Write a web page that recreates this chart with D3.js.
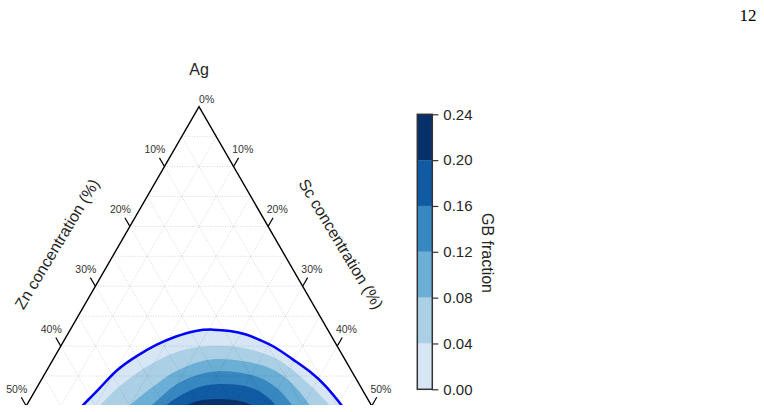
<!DOCTYPE html>
<meta charset="utf-8">
<script src="https://d3js.org/d3.v7.min.js"></script>
<style>
  body { margin: 0; background: #fff; }
  text { font-family: "Liberation Sans", Arial, sans-serif; fill: #262626; }
</style>
<div id="chart"></div>
<script>

// GB fraction levels (colorbar ticks) and the Blues bands between them
var levels = [0, 0.04, 0.08, 0.12, 0.16, 0.20, 0.24];
var bandColors = ["#d6e6f4", "#abd0e6", "#6baed6", "#3787c0", "#105ba4", "#08306b"];

// contour boundaries, as [Zn %, Sc %]
var gb000 = [[45.5,7.2],[41.8,8.1],[37.8,9.2],[33.9,10.0],[29.8,11.8],[26.0,13.7],[22.7,15.7],
             [19.0,18.3],[16.6,20.6],[14.2,23.2],[12.1,25.9],[10.7,28.3],[9.2,30.7],[7.5,34.8],
             [6.0,38.2],[4.9,41.8],[4.3,45.6],[3.7,49.5]];
var gb004 = [[43.0,9.8],[39.3,10.6],[35.4,11.6],[31.2,13.2],[27.4,15.1],[24.5,16.6],[19.8,20.1],
             [15.0,24.9],[11.4,29.6],[9.4,32.8],[7.9,37.1],[6.7,40.8],[6.0,43.9],[5.3,47.5]];
var gb008 = [[38.5,13.8],[34.9,14.9],[31.3,16.2],[27.9,17.6],[26.1,18.3],[20.4,21.7],[16.6,25.5],
             [12.4,30.6],[10.5,33.9],[9.3,37.6],[8.9,41.0],[8.4,44.5]];
var gb012 = [[35.0,17.0],[31.8,18.1],[29.3,18.9],[26.6,19.7],[21.5,22.7],[17.1,27.0],[13.7,31.3],
             [11.9,35.3],[11.5,38.3],[11.0,42.0]];
var gb016 = [[32.5,19.5],[29.6,20.2],[27.8,20.9],[22.5,23.7],[17.7,28.6],[14.8,32.4],[13.7,36.2],
             [13.2,39.5]];
var gb020 = [[30.0,22.0],[27.2,22.7],[23.8,25.0],[19.4,29.4],[16.6,33.3],[16.0,37.0]];
var contours = [gb000, gb004, gb008, gb012, gb016, gb020];

// axis ticks (%) shown on the page, and grid spacing (%)
var axisTicks = [10, 20, 30, 40, 50];
var gridValues = [5, 10, 15, 20, 25, 30, 35, 40, 45, 50, 55, 60, 65, 70, 75, 80, 85, 90, 95];

var width = 764, height = 412;

var svg = d3.select("#chart")
  .append("svg")
    .attr("width", width)
    .attr("height", height);

// ternary projection: horizontal from Sc - Zn, vertical from Zn + Sc
var px = d3.scaleLinear().domain([-100, 100]).range([199 - 345.5, 199 + 345.5]);
var py = d3.scaleLinear().domain([0, 100]).range([106.7, 106.7 + 598.5]);
function proj(zn, sc) { return [px(sc - zn), py(zn + sc)]; }

// the page is cut at the bottom
svg.append("clipPath").attr("id", "page")
  .append("rect").attr("x", 0).attr("y", 0).attr("width", width).attr("height", 405);

var plot = svg.append("g").attr("clip-path", "url(#page)");

var line = d3.line()
  .x(function(d) { return proj(d[0], d[1])[0]; })
  .y(function(d) { return proj(d[0], d[1])[1]; })
  .curve(d3.curveBasis);

// filled bands
plot.append("g")
  .selectAll("path")
  .data(contours)
  .enter()
  .append("path")
    .attr("d", function(d) { return line(d) + "Z"; })
    .attr("fill", function(d, i) { return bandColors[i]; });

// dotted grid
var gridSegs = [];
gridValues.forEach(function(c) {
  gridSegs.push([[c, 0], [c, 100 - c]]);
  gridSegs.push([[0, c], [100 - c, c]]);
  gridSegs.push([[c, 0], [0, c]]);
});
plot.append("g")
  .selectAll("line")
  .data(gridSegs)
  .enter()
  .append("line")
    .attr("x1", function(d) { return proj(d[0][0], d[0][1])[0]; })
    .attr("y1", function(d) { return proj(d[0][0], d[0][1])[1]; })
    .attr("x2", function(d) { return proj(d[1][0], d[1][1])[0]; })
    .attr("y2", function(d) { return proj(d[1][0], d[1][1])[1]; })
    .attr("stroke", "#000")
    .attr("stroke-opacity", 0.22)
    .attr("stroke-width", 0.7)
    .attr("stroke-dasharray", "1,1.5");

// outer contour line
plot.append("path")
  .attr("d", line(gb000))
  .attr("fill", "none")
  .attr("stroke", "#0000ff")
  .attr("stroke-width", 2.5);

// triangle edges
plot.append("path")
  .attr("d", "M" + proj(100, 0) + "L" + proj(0, 0) + "L" + proj(0, 100))
  .attr("fill", "none")
  .attr("stroke", "#000")
  .attr("stroke-width", 1.4);

// ticks and labels on the Zn (left) and Sc (right) sides
var tl = 10, ux = 0.5, uy = 0.866;
var tg = plot.append("g");
axisTicks.forEach(function(t) {
  var L = proj(t, 0), R = proj(0, t);
  tg.append("line")
    .attr("x1", L[0]).attr("y1", L[1])
    .attr("x2", L[0] - tl * ux).attr("y2", L[1] - tl * uy)
    .attr("stroke", "#000").attr("stroke-width", 1.2);
  tg.append("line")
    .attr("x1", R[0]).attr("y1", R[1])
    .attr("x2", R[0] + tl * ux).attr("y2", R[1] - tl * uy)
    .attr("stroke", "#000").attr("stroke-width", 1.2);
  tg.append("text")
    .attr("x", L[0] - 9.5).attr("y", L[1] - 17.3)
    .attr("text-anchor", "middle").attr("dominant-baseline", "central")
    .style("font-size", "10.5px").style("fill", "#333")
    .text(t + "%");
  tg.append("text")
    .attr("x", R[0] + 9.2).attr("y", R[1] - 17.3)
    .attr("text-anchor", "middle").attr("dominant-baseline", "central")
    .style("font-size", "10.5px").style("fill", "#333")
    .text(t + "%");
});
var apex = proj(0, 0);
tg.append("text")
  .attr("x", apex[0] + 7.7).attr("y", apex[1] - 7.7)
  .attr("text-anchor", "middle").attr("dominant-baseline", "central")
  .style("font-size", "10.5px").style("fill", "#333")
  .text("0%");

// corner and side labels
svg.append("text")
  .attr("x", apex[0]).attr("y", 69)
  .attr("text-anchor", "middle").attr("dominant-baseline", "central")
  .style("font-size", "16px")
  .text("Ag");
svg.append("text")
  .attr("transform", "translate(57,244) rotate(-59)")
  .attr("text-anchor", "middle").attr("dominant-baseline", "central")
  .style("font-size", "16px")
  .text("Zn concentration (%)");
svg.append("text")
  .attr("transform", "translate(341,244) rotate(59)")
  .attr("text-anchor", "middle").attr("dominant-baseline", "central")
  .style("font-size", "16px")
  .text("Sc concentration (%)");

// colorbar
var cbX = 417.3, cbW = 15;
var cy = d3.scaleLinear().domain([0, 0.24]).range([389.3, 114.3]);
var cb = svg.append("g");
cb.selectAll("rect")
  .data(d3.pairs(levels))
  .enter()
  .append("rect")
    .attr("x", cbX)
    .attr("y", function(d) { return cy(d[1]); })
    .attr("width", cbW)
    .attr("height", function(d) { return cy(d[0]) - cy(d[1]); })
    .attr("fill", function(d, i) { return bandColors[i]; });
cb.append("rect")
  .attr("x", cbX).attr("y", cy(0.24))
  .attr("width", cbW).attr("height", cy(0) - cy(0.24))
  .attr("fill", "none").attr("stroke", "#333").attr("stroke-width", 1.5);
var cax = cb.append("g")
  .attr("transform", "translate(" + (cbX + cbW) + ",0)")
  .call(d3.axisRight(cy).tickValues(levels).tickFormat(d3.format(".2f")).tickSize(6).tickPadding(5));
cax.select(".domain").remove();
cax.selectAll("line").attr("stroke", "#333").attr("stroke-width", 1.2);
cax.selectAll("text")
  .style("font-size", "15px")
  .style("font-family", "'Liberation Sans', Arial, sans-serif")
  .attr("fill", "#262626");

svg.append("text")
  .attr("transform", "translate(487,253) rotate(90)")
  .attr("text-anchor", "middle").attr("dominant-baseline", "central")
  .style("font-size", "16px")
  .text("GB fraction");

// page number
svg.append("text")
  .attr("x", 748).attr("y", 15)
  .attr("text-anchor", "middle").attr("dominant-baseline", "central")
  .style("font-family", "'Liberation Serif', 'DejaVu Serif', serif")
  .style("font-size", "17px")
  .style("fill", "#000")
  .text("12");

</script>
